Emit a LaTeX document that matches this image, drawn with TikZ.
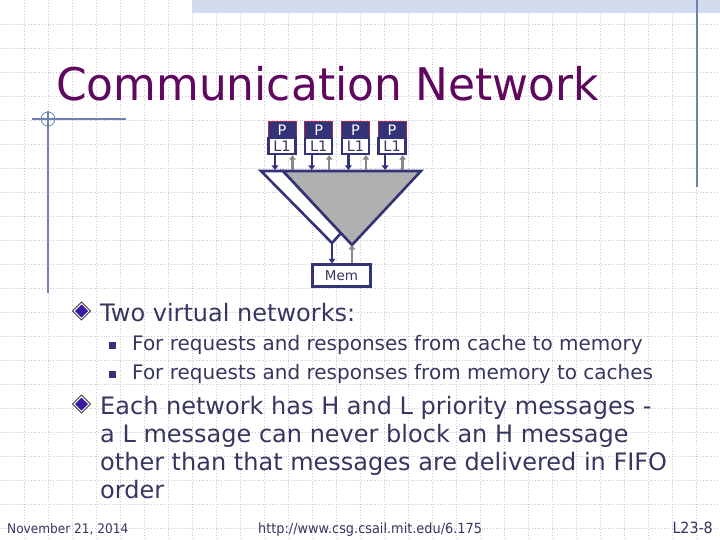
\documentclass[tikz,border=0pt]{standalone}
\usepackage{fontspec}
\setmainfont{DejaVu Sans}
\newfontfamily\condfont[FakeStretch=0.975]{DejaVu Sans}
\newfontfamily\footfont[FakeStretch=0.92]{DejaVu Sans}
\usetikzlibrary{arrows.meta}
\definecolor{navy}{RGB}{51,51,120}
\definecolor{pred}{RGB}{170,40,80}
\definecolor{titlec}{RGB}{96,8,96}
\definecolor{bodyc}{RGB}{54,54,96}
\definecolor{gridc}{RGB}{200,200,210}
\definecolor{bandc}{RGB}{211,220,239}
\definecolor{rulec}{RGB}{112,128,176}
\definecolor{trigray}{RGB}{176,176,176}
\definecolor{arrgray}{RGB}{136,136,136}
\definecolor{bulletc}{RGB}{58,26,160}
\tikzset{
  gridline/.style={gridc, dotted, line width=0.8pt},
  pbox/.style={draw=pred, fill=navy, text=white, line width=1pt, minimum width=28pt, minimum height=16pt, inner sep=0pt, font=\fontsize{14.5}{14.5}\selectfont},
  lbox/.style={draw=navy, fill=white, text=bodyc, line width=2.3pt, minimum width=27pt, minimum height=16pt, inner sep=0pt, font=\fontsize{14.5}{14.5}\selectfont},
  membox/.style={draw=navy, fill=white, text=bodyc, line width=2.3pt, minimum width=58pt, minimum height=22pt, inner sep=0pt, font=\fontsize{13.5}{13.5}\selectfont},
  netline/.style={draw=navy, line width=2.6pt, line join=miter},
  dnarrow/.style={navy, line width=2.4pt, -{Triangle[width=6.5pt,length=4.5pt]}},
  uparrow/.style={arrgray, line width=2.4pt, -{Triangle[width=6.5pt,length=4.5pt]}},
  bodytext/.style={anchor=base west, inner sep=0pt, text=bodyc},
  maintext/.style={bodytext, font=\fontsize{24}{24}\selectfont},
  subtext/.style={bodytext, font=\fontsize{20}{20}\selectfont},
  foottext/.style={inner sep=0pt, text=bodyc},
  mainbulletout/.style={fill=white, draw=black!75, line width=0.8pt},
  mainbulletin/.style={fill=bulletc},
  subbullet/.style={fill=navy},
}
\newcommand{\mydiamond}[2]{%
  \filldraw[mainbulletout] (#1,#2-9) -- (#1+9,#2) -- (#1,#2+9) -- (#1-9,#2) -- cycle;
  \fill[mainbulletin] (#1,#2-6.5) -- (#1+6.5,#2) -- (#1,#2+6.5) -- (#1-6.5,#2) -- cycle;}
\begin{document}
\begin{tikzpicture}[x=1pt,y=-1pt]
\useasboundingbox (0,0) rectangle (720,540);
\fill[white] (0,0) rectangle (720,540);
% grid
\foreach \x in {24,48,...,696} \draw[gridline] (\x,0) -- (\x,540);
\foreach \y in {24,48,...,528} \draw[gridline] (0,\y) -- (720,\y);
% top band and rules
\fill[bandc] (192,0) rectangle (720,13);
\draw[rulec, line width=1.5pt] (697,0) -- (697,187);
\draw[rulec, line width=1.2pt] (48,111) -- (48,293);
\draw[rulec, line width=1.2pt] (32,119) -- (126,119);
\draw[rulec, line width=0.8pt] (48,119) circle (7);
% title
\node[anchor=base west, inner sep=0pt, text=titlec, font=\condfont\fontsize{45}{45}\selectfont] (title) at (56,101) {Communication Network};
% network diagram
\coordinate (tl) at (261,171);
\coordinate (gl) at (283,171);
\coordinate (tr) at (421,171);
\coordinate (gb) at (352,245);
\coordinate (wb) at (332,243);
\coordinate (wj) at (341,233);
\filldraw[netline, fill=white] (tl) -- (wb) -- (wj) -- (gl) -- cycle;
\filldraw[netline, fill=trigray] (gl) -- (tr) -- (gb) -- cycle;
\draw[netline] (tl) -- (tr);
\foreach \i/\c in {1/282,2/318.7,3/355.4,4/392.1} {
  \node[pbox] (p\i) at (\c,130) {P};
  \node[lbox] (l\i) at (\c,146) {L1};
  \coordinate (d\i) at (\c-7,170);
  \coordinate (u\i) at (\c+10.5,170);
  \draw[dnarrow] (l\i.south -| d\i) -- (d\i);
  \draw[uparrow] (u\i) -- (l\i.south -| u\i);
}
\node[membox] (mem) at (341.5,275.5) {Mem};
\draw[dnarrow] (wb) -- (mem.north -| wb);
\draw[uparrow] (mem.north -| gb) -- (gb);
% bullets and text
\mydiamond{81.5}{311}
\node[maintext] (b1) at (100,321) {Two virtual networks:};
\fill[subbullet] (109,342) rectangle (116,349);
\node[subtext] (s1) at (132,350) {For requests and responses from cache to memory};
\fill[subbullet] (109,371) rectangle (116,378);
\node[subtext] (s2) at (132,379) {For requests and responses from memory to caches};
\mydiamond{81.5}{404}
\node[maintext] (b2a) at (100,414) {Each network has H and L priority messages -};
\node[maintext] (b2b) at (100,442) {a L message can never block an H message};
\node[maintext] (b2c) at (100,470) {other than that messages are delivered in FIFO};
\node[maintext] (b2d) at (100,498) {order};
% footer
\node[foottext, anchor=base west, font=\footfont\fontsize{13.2}{13.2}\selectfont] (date) at (7,533) {November 21, 2014};
\node[foottext, anchor=base west, font=\footfont\fontsize{14}{14}\selectfont] (url) at (258,533) {http://www.csg.csail.mit.edu/6.175};
\node[foottext, anchor=base east, font=\footfont\fontsize{15.5}{15.5}\selectfont] (num) at (713,533) {L23-8};
\end{tikzpicture}
\end{document}
